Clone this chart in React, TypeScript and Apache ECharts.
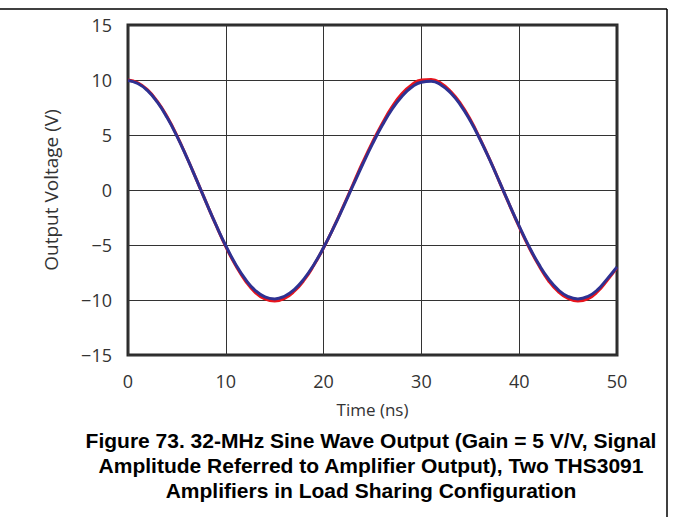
import React, { useEffect, useRef } from "react";
import * as echarts from "echarts";

const timeNs = [
  0, 1, 2, 3, 4, 5, 6, 7, 8, 9, 10, 11, 12, 13, 14, 15, 16, 17, 18, 19, 20, 21, 22, 23, 24, 25,
  26, 27, 28, 29, 30, 31, 32, 33, 34, 35, 36, 37, 38, 39, 40, 41, 42, 43, 44, 45, 46, 47, 48, 49, 50,
];

const blueVolts = [
  9.95, 9.68, 9.03, 7.98, 6.58, 4.89, 2.98, 0.94, -1.15, -3.18, -5.07, -6.74, -8.11, -9.12, -9.72,
  -9.9, -9.66, -9.05, -8.08, -6.79, -5.23, -3.47, -1.57, 0.39, 2.34, 4.19, 5.88, 7.34, 8.51, 9.34,
  9.8, 9.88, 9.55, 8.82, 7.72, 6.29, 4.59, 2.71, 0.71, -1.32, -3.29, -5.13, -6.74, -8.08, -9.08,
  -9.69, -9.9, -9.69, -9.08, -8.08, -7.0,
];

const redVolts = [
  10.0, 9.75, 9.1, 8.05, 6.65, 4.95, 3.0, 0.95, -1.15, -3.2, -5.15, -6.85, -8.25, -9.3, -9.9, -10.1,
  -9.85, -9.2, -8.2, -6.85, -5.25, -3.45, -1.5, 0.5, 2.5, 4.35, 6.05, 7.55, 8.75, 9.55, 10.0, 10.05,
  9.7, 8.95, 7.85, 6.4, 4.65, 2.75, 0.7, -1.35, -3.35, -5.2, -6.85, -8.25, -9.25, -9.85, -10.1,
  -9.9, -9.25, -8.2, -7.05,
];

const xTicks = [0, 10, 20, 30, 40, 50];
const yTicks = [-15, -10, -5, 0, 5, 10, 15];

const xAxisName = "Time (ns)";
const yAxisName = "Output Voltage (V)";
const captionLines = [
  "Figure 73. 32-MHz Sine Wave Output (Gain = 5 V/V, Signal",
  "Amplitude Referred to Amplifier Output), Two THS3091",
  "Amplifiers in Load Sharing Configuration",
];

export default function App() {
  const ref = useRef<HTMLDivElement>(null);

  useEffect(() => {
    if (!ref.current) return;
    const chart = echarts.init(ref.current, null, { renderer: "svg" });
    const labelFont = "'Open Sans', 'DejaVu Sans', sans-serif";
    const pair = (ys: number[]) => timeNs.map((t, i) => [t, ys[i]]);
    chart.setOption({
      animation: false,
      backgroundColor: "#ffffff",
      title: {
        text: captionLines.join("\n"),
        left: 371,
        top: 428,
        textAlign: "center",
        padding: 0,
        textStyle: {
          fontFamily: "'Liberation Sans', Arial, sans-serif",
          fontSize: 21,
          fontWeight: "bold",
          lineHeight: 25,
          color: "#000000",
        },
      },
      grid: {
        left: 128,
        top: 25,
        width: 489,
        height: 330,
        show: true,
        borderColor: "#2a2a2a",
        borderWidth: 3,
        backgroundColor: "transparent",
      },
      xAxis: {
        type: "value",
        min: xTicks[0],
        max: xTicks[xTicks.length - 1],
        interval: 10,
        name: xAxisName,
        nameLocation: "middle",
        nameGap: 46,
        nameTextStyle: { fontFamily: labelFont, fontSize: 17, color: "#333333" },
        axisLine: { show: false },
        axisTick: { show: false },
        axisLabel: { fontFamily: labelFont, fontSize: 18, color: "#333333", margin: 17 },
        splitLine: { show: true, lineStyle: { color: "#333333", width: 1 } },
      },
      yAxis: {
        type: "value",
        min: yTicks[0],
        max: yTicks[yTicks.length - 1],
        interval: 5,
        name: yAxisName,
        nameLocation: "middle",
        nameGap: 68,
        nameRotate: 90,
        nameTextStyle: { fontFamily: labelFont, fontSize: 19, color: "#333333" },
        axisLine: { show: false },
        axisTick: { show: false },
        axisLabel: {
          fontFamily: labelFont,
          fontSize: 18,
          color: "#333333",
          margin: 16,
          formatter: (v: number) => String(v).replace("-", "\u2212"),
        },
        splitLine: { show: true, lineStyle: { color: "#333333", width: 1 } },
      },
      graphic: [
        {
          type: "line",
          shape: { x1: 0, y1: 9, x2: 667, y2: 9 },
          style: { stroke: "#000000", lineWidth: 1.5 },
        },
        {
          type: "line",
          shape: { x1: 667, y1: 9, x2: 667, y2: 517 },
          style: { stroke: "#000000", lineWidth: 1.5 },
        },
      ],
      series: [
        {
          name: "Amplifier A",
          type: "line",
          data: pair(redVolts),
          smooth: true,
          showSymbol: false,
          lineStyle: { color: "#e8141c", width: 3 },
          z: 2,
        },
        {
          name: "Amplifier B",
          type: "line",
          data: pair(blueVolts),
          smooth: true,
          showSymbol: false,
          lineStyle: { color: "#2e3192", width: 3 },
          z: 3,
        },
      ],
    });
    return () => chart.dispose();
  }, []);

  return (
    <div
      ref={ref}
      style={{ position: "fixed", left: 0, top: 0, width: 673, height: 517 }}
    />
  );
}
